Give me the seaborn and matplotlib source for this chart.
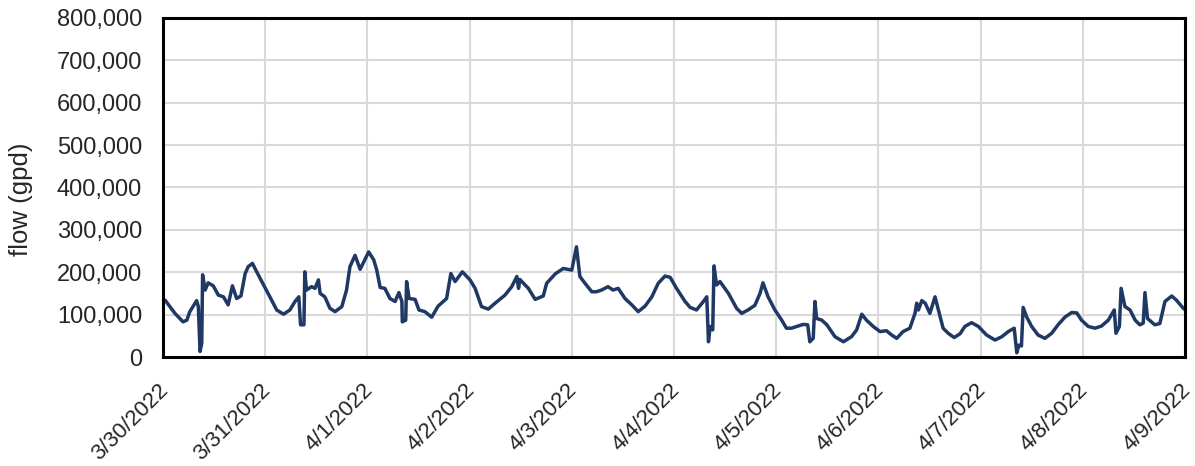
import matplotlib
matplotlib.use("Agg")
import matplotlib.pyplot as plt
import matplotlib.ticker as mticker
from matplotlib.transforms import ScaledTranslation
import seaborn as sns
import pandas as pd
import numpy as np

# hours after 3/30/2022 00:00, and flow in thousands of gpd
hours = [
    0.0, 0.5, 2.8, 4.7, 5.6, 6.3, 7.9, 8.3, 8.7, 9.1, 9.3, 9.9, 10.6, 11.8,
    13.0, 14.2, 15.3, 16.3, 17.3, 18.3, 19.3, 20.0, 21.0, 21.6, 23.2, 25.1,
    26.7, 28.3, 29.8, 31.0, 31.9, 32.3, 33.1, 33.3, 33.7, 34.9, 35.7, 36.5,
    36.9, 38.0, 39.2, 40.4, 42.0, 43.1, 43.9, 45.1, 46.3, 48.3, 49.5, 50.2,
    51.0, 52.1, 53.3, 54.5, 55.4, 56.1, 56.2, 57.0, 57.2, 57.8, 59.2, 60.1,
    61.5, 63.1, 64.6, 66.6, 67.6, 68.6, 70.3, 72.1, 73.3, 74.8, 76.4, 78.0,
    80.3, 81.9, 83.1, 83.5, 83.8, 85.8, 87.4, 89.3, 90.1, 92.1, 94.0, 96.0,
    97.1, 97.9, 99.1, 100.7, 101.8, 103.0, 104.5, 105.7, 106.9, 108.5, 110.1,
    111.6, 113.2, 114.8, 116.3, 117.9, 119.1, 120.6, 122.6, 123.8, 125.3,
    126.9, 127.7, 128.1, 128.5, 129.1, 129.4, 130.0, 130.8, 132.8, 134.7,
    135.9, 137.4, 139.0, 140.2, 140.9, 142.1, 143.7, 145.3, 146.4, 147.6,
    148.8, 150.4, 151.4, 151.9, 152.7, 153.1, 153.5, 154.7, 155.9, 157.8,
    159.8, 161.7, 162.9, 164.1, 165.2, 166.8, 168.4, 169.9, 171.1, 172.3,
    173.8, 175.4, 176.6, 177.0, 177.4, 178.2, 179.0, 180.1, 181.3, 182.1,
    183.2, 184.4, 185.8, 187.2, 188.3, 189.9, 191.5, 193.4, 195.4, 197.0,
    198.5, 199.9, 200.5, 201.0, 201.6, 202.0, 202.8, 204.0, 205.5, 207.1,
    208.7, 210.2, 211.8, 213.4, 214.6, 215.7, 217.3, 218.9, 220.4, 222.0,
    223.4, 223.8, 224.6, 225.0, 225.9, 227.1, 228.3, 229.4, 230.2, 230.6,
    231.2, 232.9, 234.1, 235.3, 236.9, 238.0, 239.6, 240.0,
]
flow_k = [
    130, 134, 103, 83, 87, 107, 133, 119, 13, 33, 194, 158, 175, 168,
    146, 142, 123, 168, 138, 144, 197, 213, 221, 209, 178, 142,
    111, 101, 111, 131, 142, 76, 76, 201, 158, 166, 162, 182,
    150, 142, 115, 107, 119, 158, 213, 240, 207, 248, 229, 205,
    164, 162, 138, 131, 152, 131, 83, 87, 178, 138, 136, 111,
    107, 94, 120, 138, 197, 178, 201, 182, 162, 119, 113, 127,
    146, 166, 190, 162, 183, 162, 136, 144, 174, 196, 209, 205,
    260, 190, 174, 154, 154, 158, 166, 158, 162, 138, 123,
    107, 120, 142, 174, 191, 188, 162, 131, 117, 111,
    131, 142, 36, 72, 64, 215, 170, 178, 150, 115,
    103, 111, 122, 150, 175, 142, 111, 87, 68, 68,
    72, 77, 76, 36, 44, 131, 91, 87, 76, 48,
    36, 48, 64, 101, 87, 72, 60, 62, 52, 44,
    60, 68, 103, 127, 111, 133, 127, 103, 142, 111,
    68, 56, 46, 55, 72, 81, 72, 52, 40, 48,
    60, 68, 10, 28, 26, 117, 95, 72, 52, 44,
    56, 76, 94, 105, 104, 87, 72, 68, 73, 87,
    111, 56, 72, 162, 119, 111, 87, 76, 80, 152,
    91, 76, 79, 131, 144, 134, 115, 112,
]

start = pd.Timestamp("2022-03-30")
end = pd.Timestamp("2022-04-09")

df = pd.DataFrame({
    "time": start + pd.to_timedelta(hours, unit="h"),
    "flow": np.array(flow_k) * 1000,
})

sns.set_style("white")
plt.rcParams["font.family"] = ["Liberation Sans", "DejaVu Sans"]

fig = plt.figure(figsize=(11.95, 4.66), dpi=100)
ax = fig.add_axes([0.1364, 0.2339, 0.8552, 0.7275])

sns.lineplot(data=df, x="time", y="flow", ax=ax, color="#1F3864", linewidth=2.5)

ax.set_xlim(start, end)
ax.set_ylim(0, 800000)

days = pd.date_range(start, end, freq="D")
ax.set_xticks(days)
ax.set_xticklabels([f"{d.month}/{d.day}/{d.year}" for d in days],
                   rotation=45, ha="right", rotation_mode="anchor")

ax.set_yticks(np.arange(0, 800001, 100000))
ax.yaxis.set_major_formatter(mticker.FuncFormatter(lambda v, p: f"{int(v):,}"))

ax.grid(True, color="#d9d9d9", linewidth=1.5)
ax.set_axisbelow(True)
for s in ax.spines.values():
    s.set_color("black")
    s.set_linewidth(2.2)

ax.tick_params(axis="x", direction="inout", length=10, width=2, labelsize=16, pad=11.5)
ax.tick_params(axis="y", direction="in", length=5, width=2, labelsize=17, pad=15)

# nudge the slanted date labels left so they end just right of their tick
# (done after tick_params, which resets label transforms)
shift = ScaledTranslation(-0.05, 0, fig.dpi_scale_trans)
for lab in ax.get_xticklabels():
    lab.set_transform(lab.get_transform() + shift)

ax.set_xlabel("")
ax.set_ylabel("flow (gpd)", fontsize=18.5)
ax.yaxis.set_label_coords(-0.127, 0.466)

fig.savefig("out.png", dpi=100)
plt.close(fig)
